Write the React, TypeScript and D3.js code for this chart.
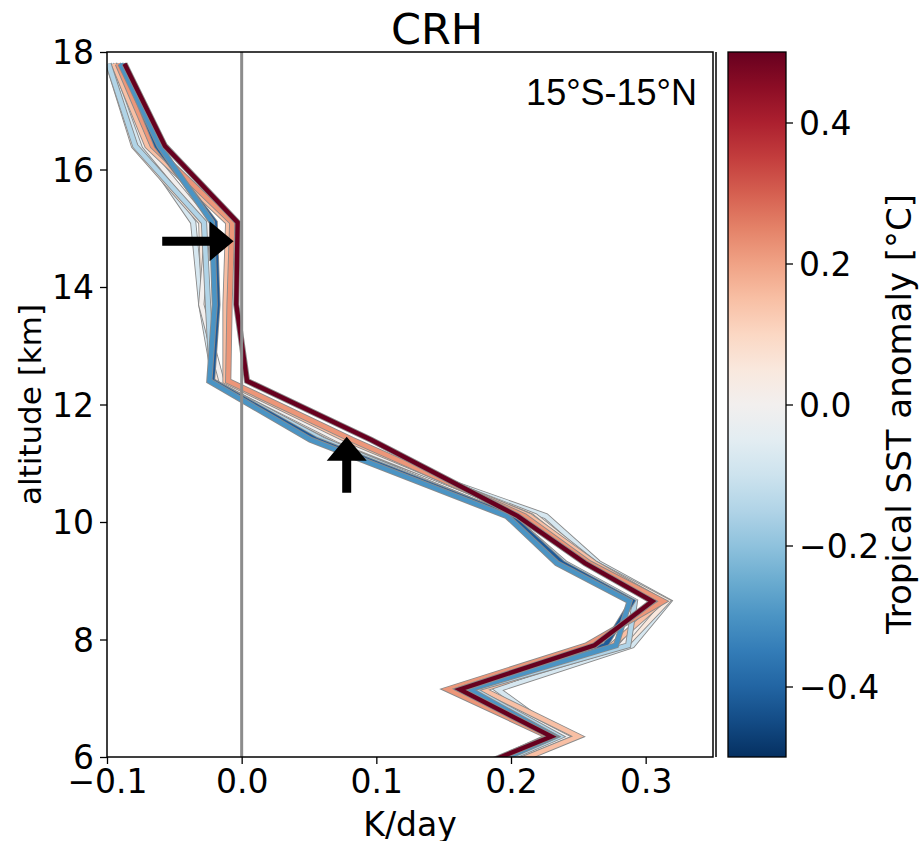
import { useEffect, useRef } from "react";
import * as d3 from "d3";

// altitude levels [km] shared by all profiles
const levels = [17.8, 16.4, 15.1, 13.7, 12.4, 11.4, 10.1, 9.3, 8.65, 7.9, 7.15, 6.35, 5.6];

// tropical SST anomaly of each profile [°C]
const anomalies = [-0.08, 0.05, 0.0, 0.15, -0.15, 0.22, -0.42, -0.3, 0.5];

// CRH heating profiles [K/day], one array per anomaly above
const crhPale = [-0.097, -0.075, -0.036, -0.03, -0.02, 0.065, 0.226, 0.265, 0.317, 0.29, 0.19, 0.238, 0.165];
const crhPink = [-0.099, -0.08, -0.03, -0.028, -0.018, 0.07, 0.218, 0.262, 0.316, 0.285, 0.175, 0.245, 0.165];
const crhWhite = [-0.094, -0.072, -0.025, -0.03, -0.015, 0.072, 0.215, 0.258, 0.31, 0.282, 0.172, 0.24, 0.16];
const crhSalmonLight = [-0.095, -0.07, -0.01, -0.012, -0.012, 0.078, 0.214, 0.262, 0.312, 0.275, 0.179, 0.25, 0.17];
const crhLightBlue = [-0.099, -0.079, -0.028, -0.025, -0.022, 0.06, 0.2, 0.24, 0.292, 0.287, 0.172, 0.236, 0.16];
const crhSalmon = [-0.092, -0.066, -0.007, -0.009, -0.01, 0.082, 0.21, 0.258, 0.313, 0.256, 0.153, 0.228, 0.155];
const crhDarkBlue = [-0.088, -0.063, -0.02, -0.018, -0.022, 0.055, 0.2, 0.238, 0.29, 0.27, 0.166, 0.232, 0.155];
const crhBlue = [-0.09, -0.061, -0.022, -0.02, -0.024, 0.051, 0.197, 0.234, 0.288, 0.278, 0.169, 0.232, 0.158];
const crhDarkRed = [-0.087, -0.057, -0.003, -0.004, 0.004, 0.096, 0.205, 0.255, 0.305, 0.262, 0.162, 0.23, 0.15];

const profiles = [crhPale, crhPink, crhWhite, crhSalmonLight, crhLightBlue, crhSalmon, crhDarkBlue, crhBlue, crhDarkRed];

const xTicks = [-0.1, 0.0, 0.1, 0.2, 0.3];
const yTicks = [6, 8, 10, 12, 14, 16, 18];
const cbTicks = [-0.4, -0.2, 0.0, 0.2, 0.4];

// annotation arrows: [x tail, y tail, x tip, y tip] in data units
const arrowH = [-0.059, 14.78, -0.006, 14.78];
const arrowV = [0.078, 10.5, 0.078, 11.45];

const W = 920;
const H = 841;
const font = "DejaVu Sans";
const fs = 33;

export default function App() {
  const ref = useRef<SVGSVGElement>(null);

  useEffect(() => {
    const svg = d3.select(ref.current);
    svg.selectAll("*").remove();

    const left = 107, right = 713, top = 52, bottom = 757;
    const x = d3.scaleLinear().domain([-0.1, 0.35]).range([left, right]);
    const y = d3.scaleLinear().domain([6, 18]).range([bottom, top]);
    const color = (a: number) => d3.interpolateRdBu(0.5 - a);

    const defs = svg.append("defs");
    defs.append("clipPath").attr("id", "plotclip")
      .append("rect").attr("x", left).attr("y", top)
      .attr("width", right - left).attr("height", bottom - top);

    const line = d3.line<number>()
      .x((d) => x(d))
      .y((_, i) => y(levels[i]));

    const g = svg.append("g").attr("clip-path", "url(#plotclip)");
    profiles.forEach((p, i) => {
      g.append("path").attr("d", line(p)).attr("fill", "none")
        .attr("stroke", "#8a8a8a").attr("stroke-width", 6.2)
        .attr("stroke-linejoin", "miter");
      g.append("path").attr("d", line(p)).attr("fill", "none")
        .attr("stroke", color(anomalies[i])).attr("stroke-width", 4.4)
        .attr("stroke-linejoin", "miter");
    });

    // zero line
    g.append("line").attr("x1", x(0)).attr("x2", x(0))
      .attr("y1", top).attr("y2", bottom)
      .attr("stroke", "#8c8c8c").attr("stroke-width", 3);

    // arrows
    const drawArrow = (a: number[]) => {
      const x1 = x(a[0]), y1 = y(a[1]), x2 = x(a[2]), y2 = y(a[3]);
      const len = Math.hypot(x2 - x1, y2 - y1);
      const ux = (x2 - x1) / len, uy = (y2 - y1) / len;
      const px = -uy, py = ux;
      const headL = 24, headW = 20, shaftW = 4.5;
      const bx = x2 - ux * headL, by = y2 - uy * headL;
      const pts = [
        [x1 + px * shaftW, y1 + py * shaftW],
        [bx + px * shaftW, by + py * shaftW],
        [bx + px * headW, by + py * headW],
        [x2, y2],
        [bx - px * headW, by - py * headW],
        [bx - px * shaftW, by - py * shaftW],
        [x1 - px * shaftW, y1 - py * shaftW],
      ];
      svg.append("polygon").attr("points", pts.map((p) => p.join(",")).join(" "))
        .attr("fill", "black");
    };
    drawArrow(arrowH);
    drawArrow(arrowV);

    // frame
    svg.append("rect").attr("x", left).attr("y", top)
      .attr("width", right - left).attr("height", bottom - top)
      .attr("fill", "none").attr("stroke", "black").attr("stroke-width", 1.5);
    svg.append("line").attr("x1", 716).attr("x2", 716).attr("y1", top).attr("y2", bottom)
      .attr("stroke", "black").attr("stroke-width", 1.5);

    // x axis
    const xa = svg.append("g").attr("transform", `translate(0,${bottom})`)
      .call(d3.axisBottom(x).tickValues(xTicks).tickFormat(d3.format(".1f")).tickSize(7).tickPadding(6));
    // y axis
    const ya = svg.append("g").attr("transform", `translate(${left},0)`)
      .call(d3.axisLeft(y).tickValues(yTicks).tickFormat(d3.format("d")).tickSize(7).tickPadding(6));
    [xa, ya].forEach((a) => {
      a.select(".domain").remove();
      a.selectAll("line").attr("stroke", "black").attr("stroke-width", 1.3);
      a.selectAll("text").attr("font-family", font).attr("font-size", fs).attr("fill", "black");
    });
    ya.selectAll("text").attr("dy", "0.36em");

    svg.append("text").attr("x", (left + right) / 2).attr("y", 836)
      .attr("text-anchor", "middle").attr("font-family", font).attr("font-size", fs)
      .text("K/day");
    svg.append("text").attr("transform", `translate(41,${(top + bottom) / 2}) rotate(-90)`)
      .attr("text-anchor", "middle").attr("font-family", font).attr("font-size", 31)
      .text("altitude [km]");
    svg.append("text").attr("x", 437).attr("y", 44)
      .attr("text-anchor", "middle").attr("font-family", font).attr("font-size", 43)
      .text("CRH");
    svg.append("text").attr("x", 697).attr("y", 105)
      .attr("text-anchor", "end").attr("font-family", "Liberation Sans").attr("font-size", 36)
      .text("15°S-15°N");

    // colorbar
    const cbL = 728, cbR = 786;
    const cy = d3.scaleLinear().domain([-0.5, 0.5]).range([bottom, top]);
    const grad = defs.append("linearGradient").attr("id", "cbgrad")
      .attr("x1", 0).attr("y1", 1).attr("x2", 0).attr("y2", 0);
    d3.range(0, 1.0001, 0.05).forEach((t) => {
      grad.append("stop").attr("offset", t).attr("stop-color", d3.interpolateRdBu(1 - t));
    });
    svg.append("rect").attr("x", cbL).attr("y", top).attr("width", cbR - cbL)
      .attr("height", bottom - top).attr("fill", "url(#cbgrad)")
      .attr("stroke", "black").attr("stroke-width", 1.3);
    const ca = svg.append("g").attr("transform", `translate(${cbR},0)`)
      .call(d3.axisRight(cy).tickValues(cbTicks).tickFormat(d3.format(".1f")).tickSize(7).tickPadding(6));
    ca.select(".domain").remove();
    ca.selectAll("line").attr("stroke", "black").attr("stroke-width", 1.3);
    ca.selectAll("text").attr("font-family", font).attr("font-size", fs).attr("fill", "black")
      .attr("dy", "0.36em");
    svg.append("text").attr("transform", `translate(911,414) rotate(-90)`)
      .attr("text-anchor", "middle").attr("font-family", font).attr("font-size", 34)
      .text("Tropical SST anomaly [°C]");
  }, []);

  return (
    <div style={{ position: "absolute", left: 0, top: 0 }}>
      <svg ref={ref} width={W} height={H} style={{ display: "block", background: "white" }}></svg>
    </div>
  );
}
